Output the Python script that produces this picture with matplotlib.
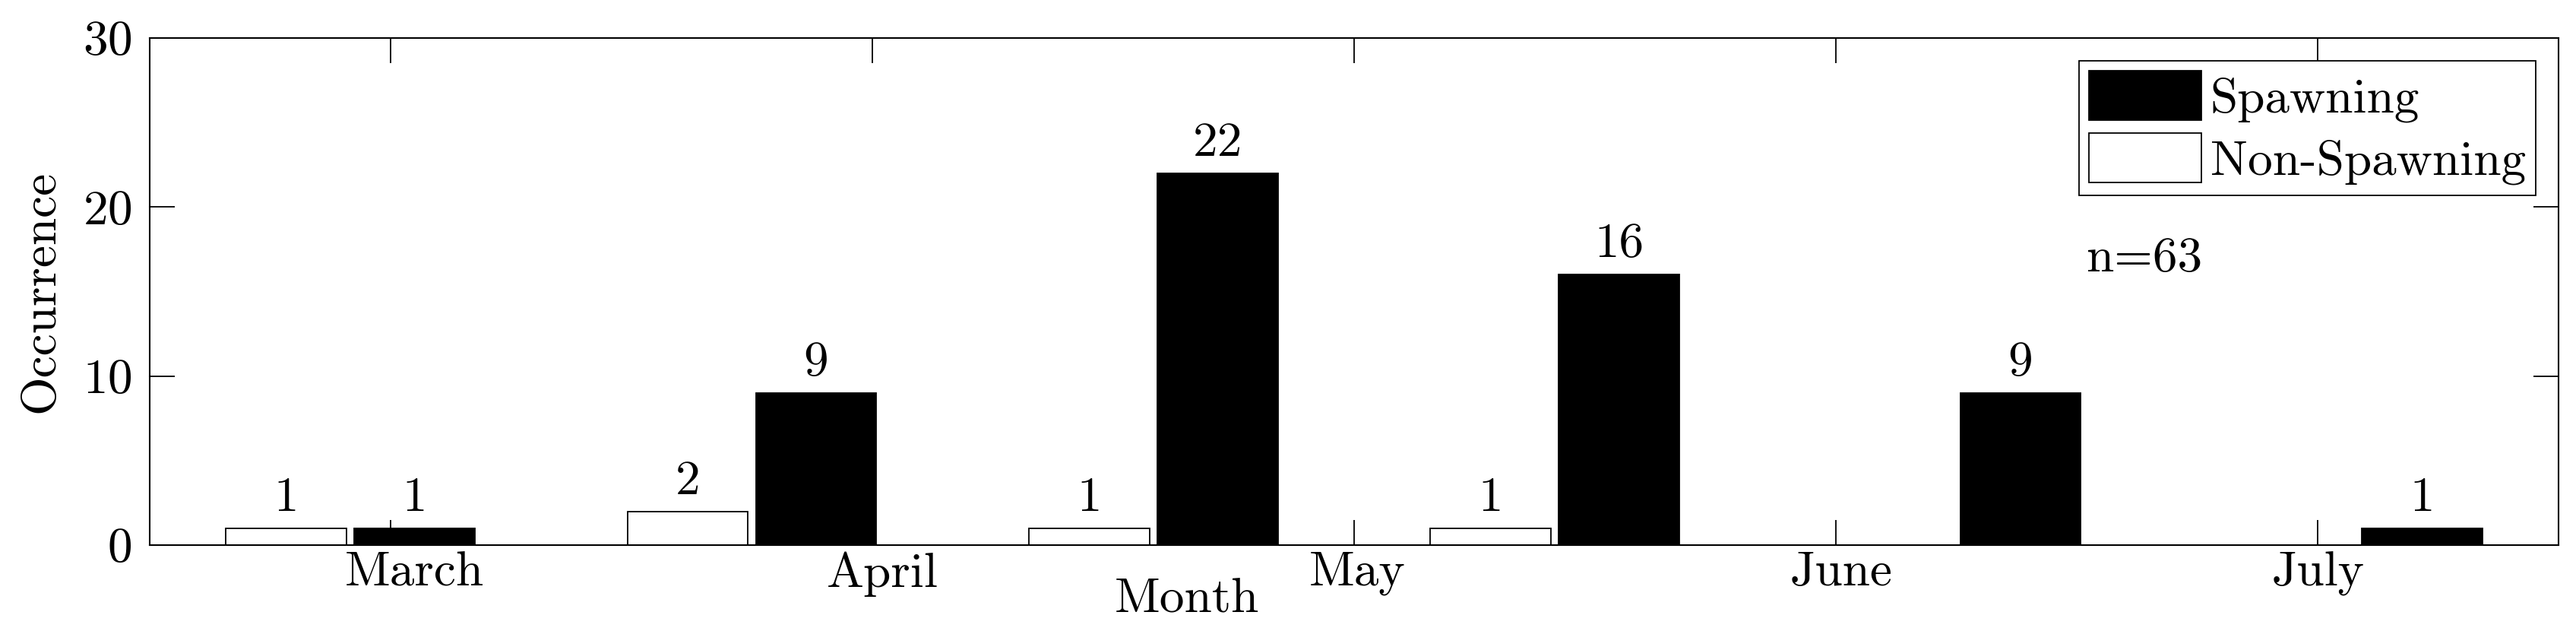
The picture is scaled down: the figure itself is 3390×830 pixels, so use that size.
import matplotlib
matplotlib.use("Agg")
import matplotlib.pyplot as plt
import matplotlib.transforms as mtransforms
import numpy as np

# ---- data ----
groups = [1, 2, 3, 4, 5, 6]
non_spawning = [1, 2, 1, 1, 0, 0]
spawning = [1, 9, 22, 16, 9, 1]
month_ticks = [1.1, 2.3, 3.5, 4.7, 5.9]
month_labels = ["March", "April", "May", "June", "July"]
n_text = "n=63"

# small horizontal nudges of tick labels (pixels), as in the original rendering
label_nudge_px = [31, 13, 4, 7, 1]

plt.rcParams["font.family"] = "serif"
plt.rcParams["font.serif"] = ["cmr10"]
plt.rcParams["mathtext.fontset"] = "cm"
plt.rcParams["axes.unicode_minus"] = False
plt.rcParams["axes.formatter.use_mathtext"] = True

FS = 47
W, H = 3391, 830
fig = plt.figure(figsize=(W / 100, H / 100), dpi=100)
ax = fig.add_axes([197 / W, (H - 717) / H, (3367 - 197) / W, (717 - 50) / H])

x = np.array(groups, dtype=float)
bw = 0.30
off = 0.16
b_non = ax.bar(x - off, non_spawning, bw, color="white", edgecolor="black",
               linewidth=1.3, label="Non-Spawning", zorder=2)
b_sp = ax.bar(x + off, spawning, bw, color="black", edgecolor="black",
              linewidth=1.3, label="Spawning", zorder=2)

for xi, v in zip(x - off, non_spawning):
    if v > 0:
        ax.text(xi, v + 1.03, str(v), ha="center", va="baseline", fontsize=FS)
for xi, v in zip(x + off, spawning):
    if v > 0:
        ax.text(xi, v + 1.03, str(v), ha="center", va="baseline", fontsize=FS)

ax.set_xlim(0.5, 6.5)
ax.set_ylim(0, 30)
ax.set_yticks([0, 10, 20, 30])
ax.set_xticks(month_ticks)
ax.set_xticklabels(month_labels)

ax.tick_params(axis="both", direction="in", length=24, width=1.3,
               labelsize=FS, top=True, right=True, zorder=5)
ax.tick_params(axis="x", pad=6)
ax.tick_params(axis="y", pad=17)
for s in ax.spines.values():
    s.set_linewidth(1.5)
    s.set_zorder(5)
ax.set_axisbelow(False)

for lab, dx in zip(ax.get_xticklabels(), label_nudge_px):
    lab.set_transform(lab.get_transform() +
                      mtransforms.ScaledTranslation(dx / 100, 0, fig.dpi_scale_trans))

ax.text(5.325, 16.19, n_text, ha="left", va="baseline", fontsize=FS)

fig.text(70 / W, 1 - 383 / H, "Occurrence", rotation=90, ha="center",
         va="baseline", rotation_mode="anchor", fontsize=FS)
fig.text(1562 / W, (H - 805) / H, "Month", ha="center", va="baseline",
         fontsize=FS)

leg = ax.legend(handles=[b_sp, b_non], labels=["Spawning", "Non-Spawning"],
                loc="upper right", bbox_to_anchor=(0.9905, 0.955),
                borderaxespad=0, fontsize=FS, frameon=True, fancybox=False,
                edgecolor="black", framealpha=1, handlelength=2.27,
                handleheight=1.15, handletextpad=0.18, labelspacing=0.22,
                borderpad=0.2)
leg.get_frame().set_linewidth(1.3)

fig.savefig("out.png", dpi=100)
